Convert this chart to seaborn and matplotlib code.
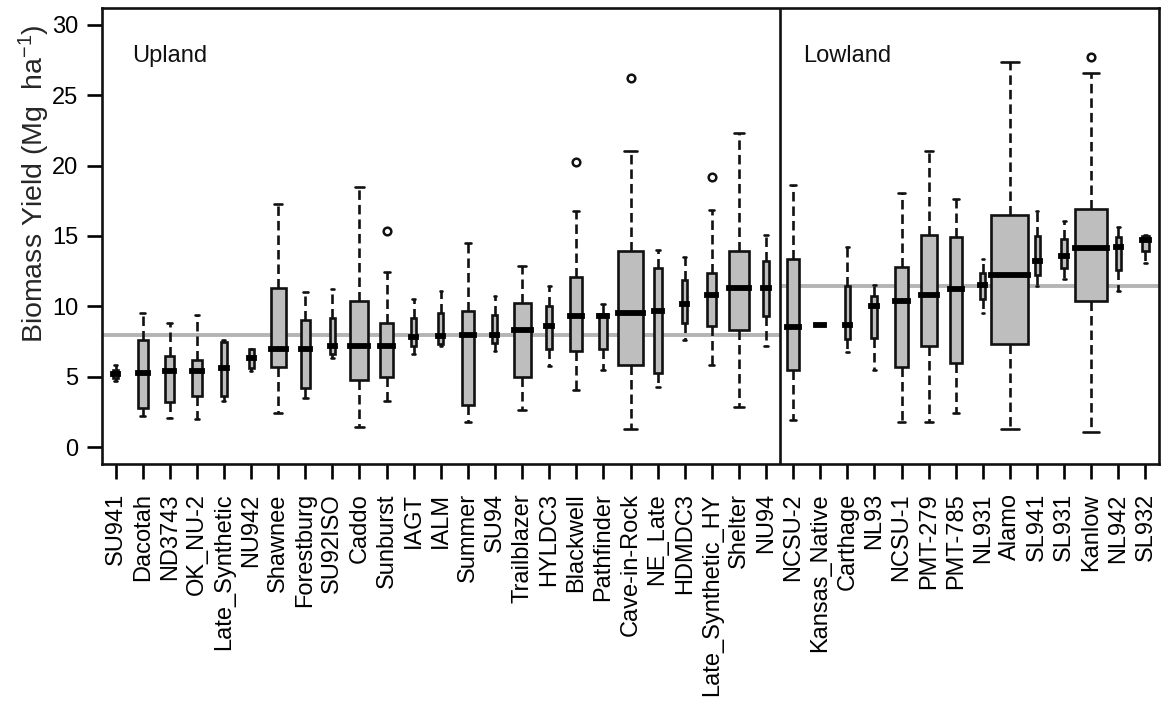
import numpy as np
import pandas as pd
import matplotlib
matplotlib.use('Agg')
import matplotlib.pyplot as plt
import seaborn as sns

# Cultivars in plotting order (25 upland, then lowland)
cultivars = ['SU941', 'Dacotah', 'ND3743', 'OK_NU-2', 'Late_Synthetic', 'NU942',
             'Shawnee', 'Forestburg', 'SU92ISO', 'Caddo', 'Sunburst', 'IAGT', 'IALM',
             'Summer', 'SU94', 'Trailblazer', 'HYLDC3', 'Blackwell', 'Pathfinder',
             'Cave-in-Rock', 'NE_Late', 'HDMDC3', 'Late_Synthetic_HY', 'Shelter', 'NU94',
             'NCSU-2', 'Kansas_Native', 'Carthage', 'NL93', 'NCSU-1', 'PMT-279', 'PMT-785',
             'NL931', 'Alamo', 'SL941', 'SL931', 'Kanlow', 'NL942', 'SL932']
n_upland = 25

# Box summaries (Mg ha-1)
whis_lo = [4.7, 2.2, 2.1, 2.0, 3.3, 5.4, 2.4, 3.5, 6.35, 1.4, 3.25, 6.65, 7.15,
           1.8, 6.85, 2.65, 5.75, 4.05, 5.5, 1.3, 4.3, 7.6, 5.85, 2.85, 7.15,
           1.9, 8.65, 6.75, 5.5, 1.8, 1.8, 2.4, 9.5, 1.3, 11.45, 11.95, 1.1, 11.1, 13.05]
q1 = [4.9, 2.8, 3.2, 3.6, 3.6, 5.65, 5.7, 4.2, 6.6, 4.75, 4.95, 7.2, 7.3,
      3.0, 7.4, 4.95, 7.0, 6.8, 6.95, 5.8, 5.25, 8.85, 8.6, 8.3, 9.3,
      5.45, 8.65, 7.7, 7.75, 5.7, 7.15, 5.95, 10.55, 7.35, 12.25, 12.75, 10.4, 12.6, 13.9]
median = [5.2, 5.3, 5.4, 5.4, 5.65, 6.3, 6.95, 7.0, 7.2, 7.2, 7.2, 7.8, 7.9,
          8.0, 8.0, 8.3, 8.6, 9.3, 9.35, 9.55, 9.65, 10.2, 10.8, 11.3, 11.3,
          8.55, 8.65, 8.7, 10.0, 10.4, 10.8, 11.25, 11.55, 12.2, 13.25, 13.6, 14.15, 14.2, 14.75]
q3 = [5.5, 7.6, 6.5, 6.2, 7.5, 6.95, 11.3, 9.05, 9.2, 10.4, 8.85, 9.15, 9.55,
      9.7, 9.4, 10.25, 10.0, 12.1, 9.45, 13.95, 12.75, 11.85, 12.4, 13.95, 13.2,
      13.4, 8.65, 11.45, 10.75, 12.8, 15.05, 14.9, 12.4, 16.5, 15.0, 14.8, 16.95, 14.95, 15.0]
whis_hi = [5.8, 9.5, 8.8, 9.4, 7.6, 7.0, 17.3, 11.0, 11.25, 18.5, 12.45, 10.5, 11.1,
           14.5, 10.75, 12.9, 11.45, 16.75, 10.2, 21.05, 14.0, 13.5, 16.85, 22.3, 15.05,
           18.65, 8.65, 14.2, 11.5, 18.05, 21.05, 17.65, 13.35, 27.35, 16.75, 16.05, 26.6, 15.65, 15.1]
outliers = {'Sunburst': [15.35], 'Blackwell': [20.25], 'Cave-in-Rock': [26.2],
            'Late_Synthetic_HY': [19.2], 'Kanlow': [27.7]}
# approximate number of observations (box width ~ sqrt(n))
n_obs = [2, 8, 7, 7, 3, 2, 18, 7, 2, 26, 12, 2, 2,
         12, 2, 23, 3, 12, 5, 54, 5, 2, 7, 32, 3,
         12, 5, 2, 3, 12, 21, 12, 2, 110, 2, 3, 82, 2, 3]

upland_mean = 7.95
lowland_mean = 11.45

df = pd.DataFrame({'cultivar': cultivars, 'whislo': whis_lo, 'q1': q1, 'med': median,
                   'q3': q3, 'whishi': whis_hi, 'n': n_obs})

sns.set_theme(style='ticks')
plt.rcParams['font.family'] = ['Liberation Sans', 'DejaVu Sans']
plt.rcParams['mathtext.fontset'] = 'custom'
plt.rcParams['mathtext.rm'] = 'Liberation Sans'
plt.rcParams['mathtext.it'] = 'Liberation Sans:italic'
plt.rcParams['axes.edgecolor'] = 'black'
plt.rcParams['xtick.color'] = 'black'
plt.rcParams['ytick.color'] = 'black'
plt.rcParams['text.color'] = '#111111'

fig = plt.figure(figsize=(11.66, 7.13), dpi=100)
ax = fig.add_axes([102 / 1166, 1 - 464 / 713, (1159 - 102) / 1166, (464 - 8) / 713])

stats = []
for _, row in df.iterrows():
    stats.append({'med': row['med'], 'q1': row['q1'], 'q3': row['q3'],
                  'whislo': row['whislo'], 'whishi': row['whishi'],
                  'fliers': outliers.get(row['cultivar'], [])})

widths = 1.365 * np.sqrt(df['n'].values / df['n'].max())
pos = np.arange(len(cultivars))

# group means
ax.hlines(upland_mean, -0.5, n_upland - 0.5, color='#b4b4b4', lw=2.8, zorder=1)
ax.hlines(lowland_mean, n_upland - 0.5, len(cultivars) - 0.5, color='#b4b4b4', lw=2.8, zorder=1)

ax.bxp(stats, positions=pos, widths=widths, capwidths=widths * 0.5, patch_artist=True,
       manage_ticks=False,
       boxprops=dict(facecolor='#bebebe', edgecolor='#111111', linewidth=1.9),
       medianprops=dict(color='black', linewidth=4.2, solid_capstyle='projecting'),
       whiskerprops=dict(color='#111111', linestyle=(0, (3.6, 1.9)), linewidth=1.9),
       capprops=dict(color='#111111', linewidth=1.9),
       flierprops=dict(marker='o', markerfacecolor='none', markeredgecolor='#111111',
                       markersize=5.5, markeredgewidth=1.8))

ax.axvline(n_upland - 0.5, color='#111111', lw=1.9)

ax.set_xlim(-0.5, len(cultivars) - 0.5)
ax.set_ylim(-1.2, 31.2)
ax.set_yticks(range(0, 31, 5))
ax.set_xticks(pos)
ax.set_xticklabels(cultivars, rotation=90)
ax.tick_params(axis='both', length=11, width=1.9, labelsize=17)
ax.tick_params(axis='x', pad=10)
ax.tick_params(axis='y', pad=6)
for s in ax.spines.values():
    s.set_linewidth(1.9)
    s.set_color('#111111')

ax.set_ylabel('Biomass Yield (Mg  ha$^{-1}$)', fontsize=20.5)
ax.yaxis.set_label_coords(-0.047, 0.614)

ax.text(0.6, 27.8, 'Upland', fontsize=17, ha='left', va='center')
ax.text(25.36, 27.8, 'Lowland', fontsize=17, ha='left', va='center')

plt.savefig('out.png', dpi=100)
